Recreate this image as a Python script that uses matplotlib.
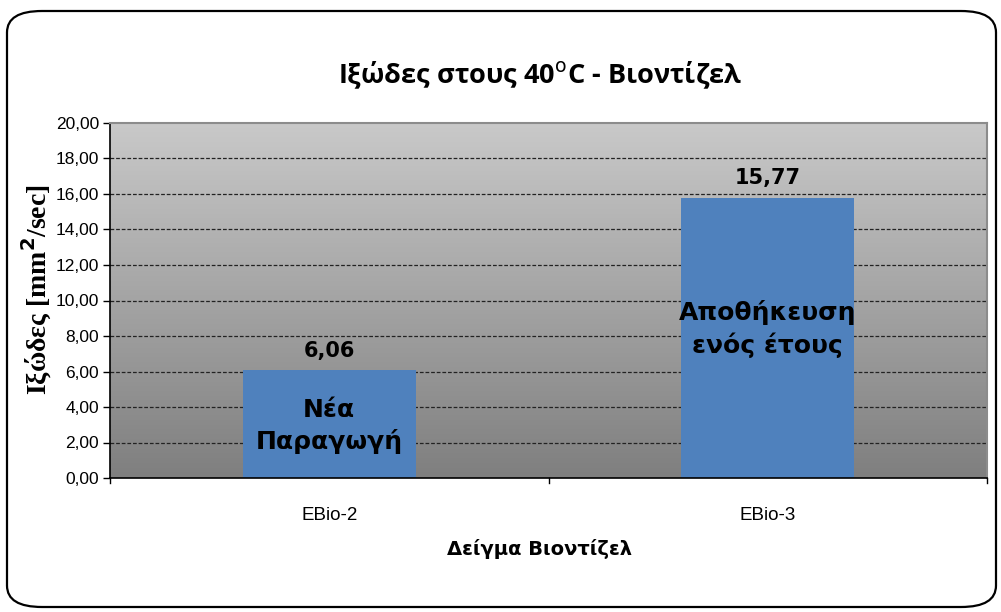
import matplotlib
matplotlib.use("Agg")
import matplotlib.pyplot as plt
import numpy as np
from matplotlib.patches import FancyBboxPatch
from matplotlib.colors import LinearSegmentedColormap

# Data
samples = ["EBio-2", "EBio-3"]
viscosity = [6.06, 15.77]
value_labels = ["6,06", "15,77"]
bar_notes = ["Νέα\nΠαραγωγή", "Αποθήκευση\nενός έτους"]
yticks = [0, 2, 4, 6, 8, 10, 12, 14, 16, 18, 20]
ytick_labels = ["0,00", "2,00", "4,00", "6,00", "8,00", "10,00", "12,00",
                "14,00", "16,00", "18,00", "20,00"]

W, H = 1001, 612
fig = plt.figure(figsize=(W / 100, H / 100), dpi=100)
fig.patch.set_facecolor("white")

# rounded outer frame
frame = FancyBboxPatch((7 / W, 5 / H), 989 / W, 596 / H,
                       boxstyle="round,pad=0,rounding_size=0.035",
                       transform=fig.transFigure, facecolor="none",
                       edgecolor="black", linewidth=1.6, zorder=-1)
fig.patches.append(frame)

left, right, top, bottom = 110, 987, 123, 478
ax = fig.add_axes([left / W, 1 - bottom / H, (right - left) / W, (bottom - top) / H])

# gradient plot background
cmap = LinearSegmentedColormap.from_list("bg", ["#c9c9c9", "#7f7f7f"])
grad = np.linspace(0, 1, 256).reshape(-1, 1)
ax.imshow(grad, cmap=cmap, aspect="auto", extent=[0, 1, 0, 1],
          transform=ax.transAxes, zorder=0)

x = np.arange(len(samples))
ax.set_xlim(-0.5, len(samples) - 0.5)
ax.set_ylim(0, 20)

for yv in yticks[1:-1]:
    ax.axhline(yv, color="#222222", linestyle=(0, (3, 1.5)), linewidth=0.9, zorder=1)

bars = ax.bar(x, viscosity, width=0.395, color="#4f81bd", zorder=2)

for xi, v, lab in zip(x, viscosity, value_labels):
    ax.text(xi, v + 0.55, lab, ha="center", va="bottom", fontsize=15,
            fontweight="bold", family="DejaVu Sans", zorder=3)

note_y = [2.95, 8.4]
for xi, note, ny in zip(x, bar_notes, note_y):
    ax.text(xi, ny, note, ha="center", va="center", fontsize=18,
            fontweight="bold", family="DejaVu Sans", linespacing=1.35, zorder=3)

ax.set_yticks(yticks)
ax.set_yticklabels(ytick_labels, family="Liberation Sans", fontsize=12.5)
ax.set_xticks(x)
ax.set_xticklabels(samples, family="Liberation Sans", fontsize=13.5)
ax.tick_params(axis="x", length=0, pad=21)
ax.tick_params(axis="y", length=5, width=1, color="black", pad=3)

# category boundary ticks on the x axis
for xb in [-0.5, 0.5, 1.5]:
    ax.plot([xb, xb], [0, -0.3], color="black", linewidth=1, clip_on=False, zorder=4)

for side in ["top", "right"]:
    ax.spines[side].set_color("#8c8c8c")
    ax.spines[side].set_linewidth(1.5)
for side in ["left", "bottom"]:
    ax.spines[side].set_color("black")
    ax.spines[side].set_linewidth(1.2)

fig.text(540 / W, 1 - 75 / H, "Ιξώδες στους 40$^{\\mathrm{o}}$C - Βιοντίζελ",
         ha="center", va="center", fontsize=19.5, fontweight="bold",
         family="Open Sans")
fig.text(37 / W, 1 - 290 / H, "Ιξώδες [mm$^{\\mathbf{2}}$/sec]", ha="center", va="center",
         rotation=90, fontsize=20, fontweight="bold", family="Liberation Serif")
fig.text(540 / W, 1 - 549 / H, "Δείγμα Βιοντίζελ", ha="center", va="center",
         fontsize=14, fontweight="bold", family="DejaVu Sans")

fig.savefig("out.png", dpi=100)
